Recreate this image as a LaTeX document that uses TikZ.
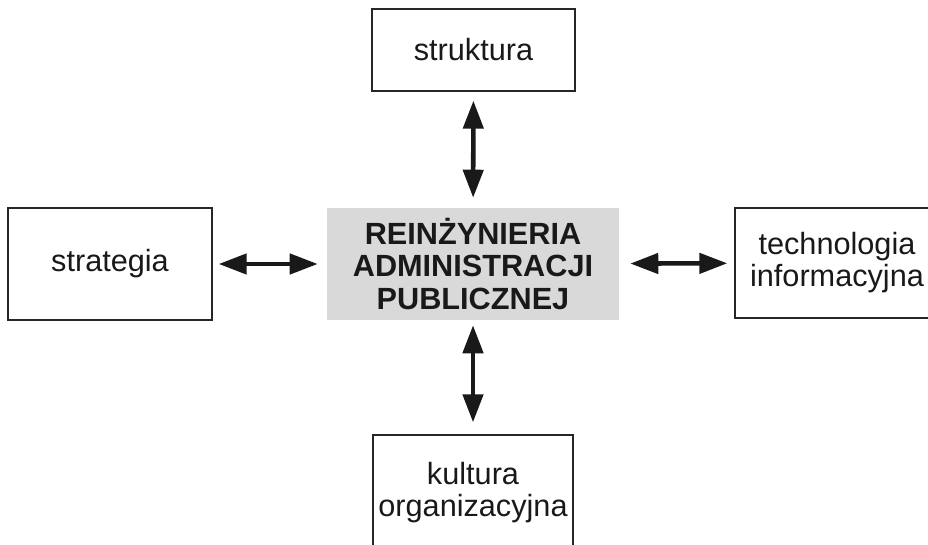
\documentclass[tikz,border=0pt]{standalone}
\usepackage{fontspec}
\setmainfont{Liberation Sans}
\usetikzlibrary{arrows.meta}

\tikzset{
  pole/.style={draw=black!85, line width=1pt, inner sep=0pt, align=center,
    text=black!90, font=\fontsize{23pt}{24pt}\selectfont},
  srodek/.style={fill=black!15, inner sep=0pt, align=center, text=black!90,
    font=\fontsize{23pt}{24.4pt}\selectfont\bfseries},
  dwa/.style={{Triangle[length=21pt,width=15pt]}-{Triangle[length=21pt,width=15pt]},
    line width=3.4pt, draw=black!90}
}

\begin{document}
\begin{tikzpicture}[x=0.75pt,y=-0.75pt]
    \useasboundingbox (0,0) rectangle (928,545);

    \node[srodek, minimum width=219pt, minimum height=84pt] (R) at (473,264) {REINŻYNIERIA\\ADMINISTRACJI\\PUBLICZNEJ};

    \node[pole, minimum width=152.25pt, minimum height=61.5pt] (S) at (473.5,50) {struktura};
    \node[pole, minimum width=153pt, minimum height=84pt] (St) at (110,264) {strategia};
    \node[pole, minimum width=153pt, minimum height=82.5pt] (T) at (837,263) {technologia\\informacyjna};
    \node[pole, minimum width=150pt, minimum height=87pt] (K) at (473,493) {kultura\\organizacyjna};

    \draw[dwa, shorten <=6.75pt, shorten >=7.5pt] (S) -- (R);
    \draw[dwa, shorten <=3.75pt, shorten >=9pt] (R) -- (K);
    \draw[dwa, shorten <=4.5pt, shorten >=6.75pt] (St) -- (R);
    \draw[dwa, shorten <=8.25pt, shorten >=5.25pt] (R) -- (T);

\end{tikzpicture}
\end{document}
